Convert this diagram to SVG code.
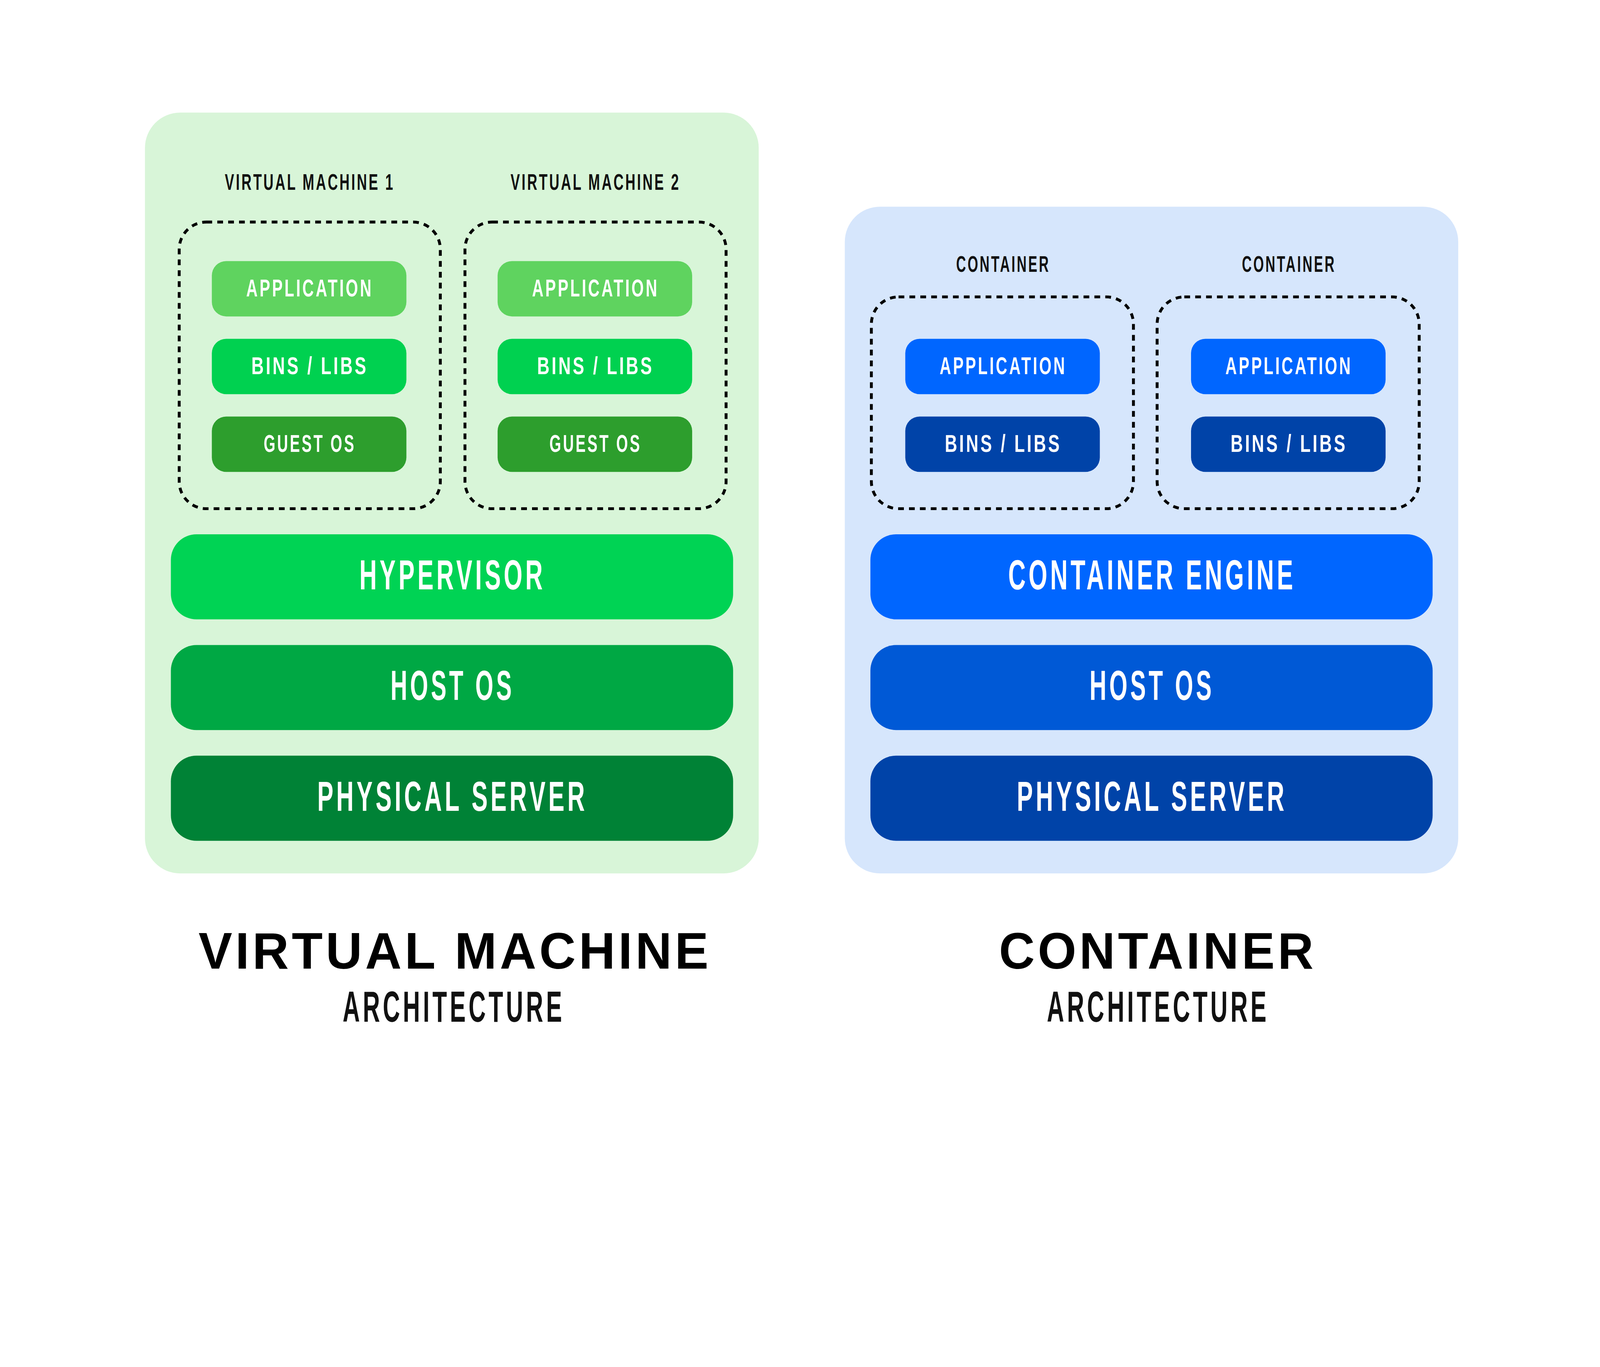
<svg xmlns="http://www.w3.org/2000/svg" width="5000" height="3500" viewBox="0 0 5000 3500" style="width:100vw;height:70vw;display:block">
<style>
.cond{font-family:"Liberation Sans","DejaVu Sans",sans-serif;font-weight:bold;text-anchor:middle;letter-spacing:0.12em}
.w{fill:#ffffff}
.k{fill:#111111}
.lbl{font-size:70px}
.pt{font-size:77px}
.bt{font-size:131px}
.title{font-family:"Liberation Sans","DejaVu Sans",sans-serif;font-weight:bold;text-anchor:middle;font-size:160px;fill:#000;letter-spacing:0.06em}
.sub{font-size:135px}
.dash{fill:none;stroke:#000;stroke-width:9;stroke-dasharray:18 16}
</style>
<rect width="5000" height="3500" fill="#ffffff"/>
<g id="vm-panel">
<rect x="453" y="352" width="1918" height="2378" rx="110" fill="#d8f5d8"/>
</g>
<g id="ct-panel">
<rect x="2640" y="646" width="1917" height="2084" rx="110" fill="#d6e6fc"/>
</g>
<g id="vm1">
<text class="cond k lbl" x="968" y="593" textLength="531" lengthAdjust="spacingAndGlyphs">VIRTUAL MACHINE 1</text>
<rect class="dash" x="560" y="694" width="816" height="896" rx="85"/>
</g>
<g id="vm2">
<text class="cond k lbl" x="1861" y="593" textLength="531" lengthAdjust="spacingAndGlyphs">VIRTUAL MACHINE 2</text>
<rect class="dash" x="1453" y="694" width="816" height="896" rx="85"/>
</g>
<g id="vm1-app"><rect x="662" y="816" width="608" height="173" rx="45" fill="#5fd35f"/><text class="cond w pt" x="968" y="927" textLength="397" lengthAdjust="spacingAndGlyphs">APPLICATION</text></g>
<g id="vm1-bins"><rect x="662" y="1059" width="608" height="173" rx="45" fill="#00d150"/><text class="cond w pt" x="968" y="1170" textLength="365" lengthAdjust="spacingAndGlyphs">BINS / LIBS</text></g>
<g id="vm1-guest"><rect x="662" y="1302" width="608" height="173" rx="45" fill="#2d9e2d"/><text class="cond w pt" x="968" y="1413" textLength="288" lengthAdjust="spacingAndGlyphs">GUEST OS</text></g>
<g id="vm2-app"><rect x="1555" y="816" width="608" height="173" rx="45" fill="#5fd35f"/><text class="cond w pt" x="1861" y="927" textLength="397" lengthAdjust="spacingAndGlyphs">APPLICATION</text></g>
<g id="vm2-bins"><rect x="1555" y="1059" width="608" height="173" rx="45" fill="#00d150"/><text class="cond w pt" x="1861" y="1170" textLength="365" lengthAdjust="spacingAndGlyphs">BINS / LIBS</text></g>
<g id="vm2-guest"><rect x="1555" y="1302" width="608" height="173" rx="45" fill="#2d9e2d"/><text class="cond w pt" x="1861" y="1413" textLength="288" lengthAdjust="spacingAndGlyphs">GUEST OS</text></g>
<g id="hypervisor"><rect x="534" y="1670" width="1757" height="266" rx="80" fill="#00d354"/><text class="cond w bt" x="1414" y="1842" textLength="582" lengthAdjust="spacingAndGlyphs">HYPERVISOR</text></g>
<g id="vm-hostos"><rect x="534" y="2016" width="1757" height="266" rx="80" fill="#00a844"/><text class="cond w bt" x="1414" y="2188" textLength="387" lengthAdjust="spacingAndGlyphs">HOST OS</text></g>
<g id="vm-server"><rect x="534" y="2362" width="1757" height="266" rx="80" fill="#008236"/><text class="cond w bt" x="1414" y="2534" textLength="845" lengthAdjust="spacingAndGlyphs">PHYSICAL SERVER</text></g>
<g id="ct1">
<text class="cond k lbl" x="3135" y="850" textLength="294" lengthAdjust="spacingAndGlyphs">CONTAINER</text>
<rect class="dash" x="2723" y="928" width="819" height="662" rx="85"/>
</g>
<g id="ct2">
<text class="cond k lbl" x="4028" y="850" textLength="294" lengthAdjust="spacingAndGlyphs">CONTAINER</text>
<rect class="dash" x="3616" y="928" width="819" height="662" rx="85"/>
</g>
<g id="ct1-app"><rect x="2829" y="1059" width="608" height="173" rx="45" fill="#0066ff"/><text class="cond w pt" x="3135" y="1170" textLength="397" lengthAdjust="spacingAndGlyphs">APPLICATION</text></g>
<g id="ct1-bins"><rect x="2829" y="1302" width="608" height="173" rx="45" fill="#0043a8"/><text class="cond w pt" x="3135" y="1413" textLength="365" lengthAdjust="spacingAndGlyphs">BINS / LIBS</text></g>
<g id="ct2-app"><rect x="3722" y="1059" width="608" height="173" rx="45" fill="#0066ff"/><text class="cond w pt" x="4028" y="1170" textLength="397" lengthAdjust="spacingAndGlyphs">APPLICATION</text></g>
<g id="ct2-bins"><rect x="3722" y="1302" width="608" height="173" rx="45" fill="#0043a8"/><text class="cond w pt" x="4028" y="1413" textLength="365" lengthAdjust="spacingAndGlyphs">BINS / LIBS</text></g>
<g id="engine"><rect x="2720" y="1670" width="1757" height="266" rx="80" fill="#0066ff"/><text class="cond w bt" x="3600" y="1842" textLength="899" lengthAdjust="spacingAndGlyphs">CONTAINER ENGINE</text></g>
<g id="ct-hostos"><rect x="2720" y="2016" width="1757" height="266" rx="80" fill="#0059d6"/><text class="cond w bt" x="3600" y="2188" textLength="390" lengthAdjust="spacingAndGlyphs">HOST OS</text></g>
<g id="ct-server"><rect x="2720" y="2362" width="1757" height="266" rx="80" fill="#0043a8"/><text class="cond w bt" x="3600" y="2534" textLength="845" lengthAdjust="spacingAndGlyphs">PHYSICAL SERVER</text></g>
<g id="connectors"></g>
<g id="vm-title">
<text class="title" x="1422" y="3027" textLength="1603" lengthAdjust="spacingAndGlyphs">VIRTUAL MACHINE</text>
<text class="cond k sub" x="1418" y="3193" textLength="694" lengthAdjust="spacingAndGlyphs">ARCHITECTURE</text>
</g>
<g id="ct-title">
<text class="title" x="3618" y="3027" textLength="992" lengthAdjust="spacingAndGlyphs">CONTAINER</text>
<text class="cond k sub" x="3619" y="3193" textLength="695" lengthAdjust="spacingAndGlyphs">ARCHITECTURE</text>
</g>
</svg>
